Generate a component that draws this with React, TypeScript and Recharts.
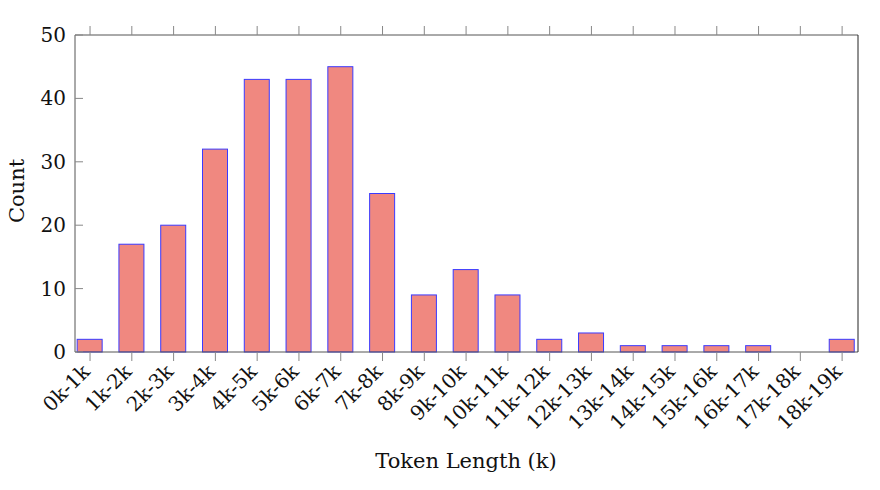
import React from "react";
import { BarChart, Bar, XAxis, YAxis } from "recharts";

// token length buckets and counts
const LABELS = [
  "0k-1k", "1k-2k", "2k-3k", "3k-4k", "4k-5k", "5k-6k", "6k-7k", "7k-8k", "8k-9k", "9k-10k",
  "10k-11k", "11k-12k", "12k-13k", "13k-14k", "14k-15k", "15k-16k", "16k-17k", "17k-18k", "18k-19k",
];
const COUNTS = [2, 17, 20, 32, 43, 43, 45, 25, 9, 13, 9, 2, 3, 1, 1, 1, 1, 0, 2];
const Y_TICKS = [0, 10, 20, 30, 40, 50];

const data = LABELS.map((name, i) => ({ idx: i, name, count: COUNTS[i] }));
const X_TICKS = LABELS.map((_, i) => i);

const FONT = "'DejaVu Serif', serif";
const FS = 20;
const FS_LABEL = 21;
const FRAME = "#555";
const TICK = "#888";
const FILL = "#F08880";
const EDGE = "#3a3aff";

const LeftTick = ({ x, y, payload }: any) => (
  <g>
    <line x1={x} y1={y} x2={x + 8} y2={y} stroke={TICK} />
    <text x={x - 9} y={y} dy={7} textAnchor="end" fontSize={FS} fontFamily={FONT} fill="#111">
      {payload.value}
    </text>
  </g>
);

const RightTick = ({ x, y }: any) => (
  <line x1={x - 7} y1={y} x2={x} y2={y} stroke={TICK} />
);

const BottomTick = ({ x, y, payload }: any) => {
  const ax = x + 1;
  const ay = y + 21;
  return (
    <g>
      <line x1={x} y1={y} x2={x} y2={y + 9} stroke={TICK} />
      <text
        x={ax}
        y={ay}
        textAnchor="end"
        fontSize={FS}
        fontFamily={FONT}
        fill="#111"
        transform={`rotate(-45, ${ax}, ${ay})`}
      >
        {LABELS[payload.value]}
      </text>
    </g>
  );
};

const TopTick = ({ x, y }: any) => (
  <line x1={x} y1={y} x2={x} y2={y - 9} stroke={TICK} />
);

const CountLabel = () => (
  <text
    x={24}
    y={191}
    textAnchor="middle"
    fontSize={FS_LABEL}
    fontFamily={FONT}
    fill="#111"
    transform="rotate(-90, 24, 191)"
  >
    Count
  </text>
);

const XTitle = () => (
  <text x={466} y={468} textAnchor="middle" fontSize={FS_LABEL} fontFamily={FONT} fill="#111">
    Token Length (k)
  </text>
);

// plain rect so zero-height bars still show their edge
const BarShape = ({ x, y, width, height }: any) => (
  <rect x={x} y={y} width={width} height={Math.max(height || 0, 0)} fill={FILL} stroke={EDGE} strokeWidth={1} />
);

export default function App() {
  return (
    <div style={{ position: "absolute", left: 0, top: 0, background: "#fff" }}>
      <BarChart
        width={880}
        height={490}
        data={data}
        margin={{ top: 34, right: 21, left: 15, bottom: 28 }}
      >
        <XAxis
          xAxisId="b"
          dataKey="idx"
          type="number"
          domain={[-0.36, 18.38]}
          ticks={X_TICKS}
          interval={0}
          height={110}
          stroke={FRAME}
          tickSize={0}
          tickMargin={0}
          tick={<BottomTick />}
          label={{ content: <XTitle /> }}
        />
        <XAxis
          xAxisId="t"
          orientation="top"
          dataKey="idx"
          type="number"
          domain={[-0.36, 18.38]}
          ticks={X_TICKS}
          interval={0}
          height={1}
          stroke={FRAME}
          tickSize={0}
          tickMargin={0}
          tick={<TopTick />}
        />
        <YAxis
          yAxisId="l"
          domain={[0, 50]}
          ticks={Y_TICKS}
          width={60}
          stroke={FRAME}
          tickSize={0}
          tickMargin={0}
          tick={<LeftTick />}
          label={{ content: <CountLabel /> }}
        />
        <YAxis
          yAxisId="r"
          orientation="right"
          domain={[0, 50]}
          ticks={Y_TICKS}
          width={1}
          stroke="#222"
          tickSize={0}
          tickMargin={0}
          tick={<RightTick />}
        />
        <Bar
          xAxisId="b"
          yAxisId="l"
          dataKey="count"
          barSize={25}
          fill={FILL}
          stroke={EDGE}
          shape={<BarShape />}
          isAnimationActive={false}
        />
      </BarChart>
    </div>
  );
}
